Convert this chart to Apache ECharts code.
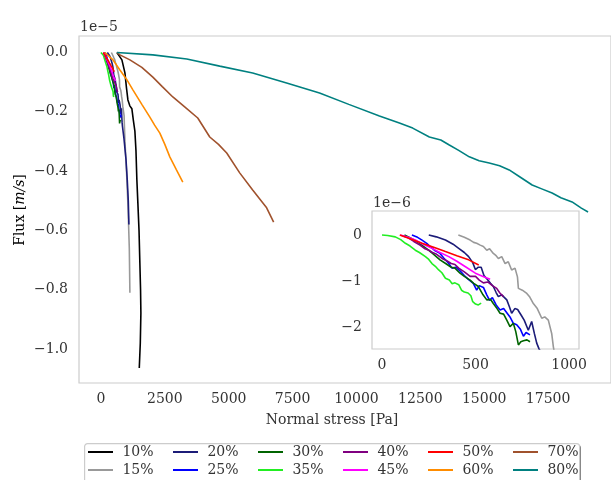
<!DOCTYPE html>
<html>
<head>
<meta charset="utf-8">
<script src="https://cdn.jsdelivr.net/npm/echarts@6/dist/echarts.min.js"></script>
<style>html,body{margin:0;padding:0;background:#fff}#c{width:611px;height:480px}</style>
</head>
<body>
<div id="c"></div>
<script>
// values: x = normal stress [Pa], y = flux in units of 1e-6 m/s
const names = ['10%','15%','20%','25%','30%','35%','40%','45%','50%','60%','70%','80%'];
const colors = ['#000000','#999999','#1c1c78','#0000ff','#006400','#22ee22','#800080','#ff00ff','#ff0000','#ff8c00','#a0522d','#008080'];
const legendRow1 = ['10%','20%','30%','40%','50%','70%'];
const legendRow2 = ['15%','25%','35%','45%','60%','80%'];
const insetNames = ['15%','20%','25%','30%','35%','40%','45%','50%'];
const mainXTicks = [0,2500,5000,7500,10000,12500,15000,17500];
const mainYTicks = [0,-2,-4,-6,-8,-10];
const insetXTicks = [0,500,1000];
const insetYTicks = [0,-1,-2];

const s10 = [[625,0],[820,-0.25],[938,-0.69],[1000,-1.2],[1055,-1.6],[1130,-1.8],[1211,-1.9],[1270,-2.3],[1328,-2.65],[1370,-3.3],[1406,-4.3],[1445,-5.08],[1490,-6.0],[1523,-7.1],[1550,-8.0],[1563,-8.79],[1540,-9.8],[1500,-10.64]];
const s15 = [[408,0],[440,-0.05],[471,-0.11],[490,-0.16],[506,-0.18],[525,-0.22],[542,-0.25],[560,-0.33],[575,-0.3],[595,-0.4],[610,-0.45],[622,-0.51],[640,-0.47],[658,-0.62],[675,-0.58],[693,-0.76],[711,-0.72],[724,-0.91],[729,-1.16],[750,-1.2],[774,-1.27],[790,-1.35],[809,-1.49],[830,-1.6],[854,-1.81],[870,-1.78],[889,-1.85],[907,-2.14],[916,-2.43],[940,-3.0],[1000,-4.0],[1060,-5.2],[1110,-6.6],[1133,-8.1]];
const s20 = [[250,0],[290,-0.04],[339,-0.11],[380,-0.2],[410,-0.29],[440,-0.38],[463,-0.47],[485,-0.6],[499,-0.75],[515,-0.7],[530,-0.7],[545,-0.88],[560,-0.95],[580,-1.05],[595,-1.12],[610,-1.25],[622,-1.34],[640,-1.3],[667,-1.41],[680,-1.55],[693,-1.7],[710,-1.6],[725,-1.62],[745,-1.75],[760,-1.85],[782,-2.07],[800,-1.88],[815,-2.15],[827,-2.35],[840,-2.48],[900,-2.9],[980,-3.6],[1030,-4.3],[1070,-5.0],[1094,-5.8]];
const s25 = [[160,0],[190,-0.05],[214,-0.11],[239,-0.18],[260,-0.26],[280,-0.33],[310,-0.4],[330,-0.5],[357,-0.62],[374,-0.72],[395,-0.7],[417,-0.78],[440,-0.88],[460,-0.96],[488,-1.05],[506,-1.2],[520,-1.1],[542,-1.14],[560,-1.3],[575,-1.42],[590,-1.36],[610,-1.52],[631,-1.63],[650,-1.6],[684,-1.78],[702,-1.92],[720,-1.95],[740,-2.05],[756,-2.2],[770,-2.12],[791,-2.17]];
const s30 = [[120,0],[160,-0.08],[200,-0.18],[240,-0.3],[270,-0.4],[310,-0.54],[340,-0.62],[370,-0.7],[390,-0.72],[417,-0.83],[440,-0.9],[471,-0.98],[490,-1.05],[515,-1.12],[540,-1.3],[560,-1.41],[580,-1.4],[595,-1.49],[615,-1.6],[631,-1.7],[650,-1.72],[667,-1.85],[684,-1.99],[702,-1.92],[715,-2.1],[729,-2.39],[742,-2.32],[756,-2.3],[775,-2.28],[791,-2.32]];
const s35 = [[0,0],[30,-0.01],[71,-0.04],[100,-0.1],[125,-0.18],[150,-0.24],[178,-0.33],[200,-0.38],[232,-0.47],[250,-0.53],[267,-0.62],[285,-0.68],[303,-0.76],[320,-0.82],[339,-0.94],[360,-0.98],[375,-1.06],[390,-1.04],[410,-1.08],[425,-1.2],[440,-1.24],[460,-1.26],[475,-1.32],[485,-1.45],[500,-1.5],[515,-1.52],[530,-1.48]];
const s40 = [[110,-0.02],[132,-0.04],[170,-0.14],[203,-0.22],[230,-0.3],[250,-0.33],[270,-0.38],[292,-0.42],[321,-0.51],[346,-0.56],[370,-0.62],[390,-0.64],[410,-0.72],[440,-0.8],[471,-0.9],[500,-0.9],[520,-0.98],[542,-1.04],[565,-1.02],[590,-1.1],[613,-1.16],[630,-1.26],[649,-1.34]];
const s45 = [[98,0],[140,-0.05],[178,-0.11],[220,-0.2],[267,-0.29],[310,-0.38],[357,-0.47],[400,-0.57],[446,-0.69],[499,-0.83],[540,-0.9],[578,-0.96]];
const s50 = [[95,0],[150,-0.08],[214,-0.18],[280,-0.27],[339,-0.36],[400,-0.45],[463,-0.54],[517,-0.65]];
const s60 = [[156,0],[469,-0.25],[742,-0.59],[1000,-0.9],[1250,-1.26],[1600,-1.75],[1914,-2.18],[2100,-2.45],[2305,-2.72],[2500,-3.1],[2695,-3.52],[2950,-3.95],[3203,-4.37]];
const s70 = [[625,0],[742,-0.08],[1133,-0.25],[1600,-0.5],[2031,-0.83],[2400,-1.15],[2813,-1.5],[3300,-1.85],[3789,-2.21],[4258,-2.85],[4600,-3.1],[4922,-3.39],[5430,-4.06],[5938,-4.64],[6484,-5.24],[6758,-5.72]];
const s80 = [[625,0],[2031,-0.08],[3359,-0.22],[4648,-0.46],[5938,-0.69],[7266,-1.03],[8555,-1.37],[9700,-1.75],[10898,-2.14],[11680,-2.38],[12200,-2.55],[12852,-2.85],[13300,-2.95],[13633,-3.12],[14000,-3.3],[14414,-3.52],[14800,-3.65],[15195,-3.73],[15600,-3.82],[15977,-3.96],[16400,-4.2],[16875,-4.47],[17250,-4.6],[17656,-4.74],[18000,-4.9],[18438,-5.04],[18800,-5.25],[19063,-5.38]];
const seriesData = [s10,s15,s20,s25,s30,s35,s40,s45,s50,s60,s70,s80];

const FONT = 'DejaVu Serif';
const FS = 14;
const TXT = '#333333';
const minus = v => String(v).replace('-', '\u2212');

const chart = echarts.init(document.getElementById('c'), null, {renderer: 'canvas'});

const series = [];
names.forEach((n, i) => {
  series.push({name: n, type: 'line', xAxisIndex: 0, yAxisIndex: 0, data: seriesData[i],
    showSymbol: false, symbol: 'none', lineStyle: {color: colors[i], width: 1.6}, itemStyle: {color: colors[i]}, z: 2 + i * 0.01});
});
insetNames.forEach(n => {
  const i = names.indexOf(n);
  series.push({name: n, type: 'line', xAxisIndex: 1, yAxisIndex: 1, data: seriesData[i],
    showSymbol: false, symbol: 'none', lineStyle: {color: colors[i], width: 1.6}, itemStyle: {color: colors[i]}, clip: true, z: 5 + i * 0.01});
});

const legends = [];
[legendRow1, legendRow2].forEach((row, r) => {
  row.forEach((n, c) => {
    legends.push({
      orient: 'horizontal', left: 88 + 85 * c, top: r === 0 ? 445 : 463, padding: 0,
      itemWidth: 25, itemHeight: 2, icon: 'rect', selectedMode: false, data: [n],
      formatter: name => '\u00a0' + name,
      textStyle: {fontFamily: FONT, fontSize: FS, color: TXT}
    });
  });
});

const option = {
  animation: false,
  backgroundColor: '#ffffff',
  grid: [
    {left: 79, top: 36, width: 533, height: 347, show: true, borderColor: '#cccccc', borderWidth: 1.2, backgroundColor: 'transparent'},
    {left: 372, top: 211, width: 207, height: 138, show: true, borderColor: '#cccccc', borderWidth: 1.2, backgroundColor: '#ffffff', z: 4}
  ],
  xAxis: [
    {type: 'value', gridIndex: 0, min: -859, max: 19961,
      axisLine: {show: false}, axisTick: {show: false}, splitLine: {show: false},
      axisLabel: {customValues: mainXTicks, fontFamily: FONT, fontSize: FS, color: TXT, margin: 9, formatter: v => String(v)}},
    {type: 'value', gridIndex: 1, min: -53.5, max: 1053,
      axisLine: {show: false}, axisTick: {show: false}, splitLine: {show: false},
      axisLabel: {customValues: insetXTicks, fontFamily: FONT, fontSize: FS, color: TXT, margin: 9, formatter: v => String(v)}}
  ],
  yAxis: [
    {type: 'value', gridIndex: 0, min: -11.147, max: 0.556,
      axisLine: {show: false}, axisTick: {show: false}, splitLine: {show: false},
      axisLabel: {customValues: mainYTicks, fontFamily: FONT, fontSize: FS, color: TXT, margin: 11,
        formatter: v => minus((v / 10).toFixed(1))}},
    {type: 'value', gridIndex: 1, min: -2.478, max: 0.522,
      axisLine: {show: false}, axisTick: {show: false}, splitLine: {show: false},
      axisLabel: {customValues: insetYTicks, fontFamily: FONT, fontSize: FS, color: TXT, margin: 10,
        formatter: v => minus(Math.round(v))}}
  ],
  legend: legends,
  graphic: [
    {type: 'rect', left: 86, top: 445, shape: {width: 495, height: 60, r: 3}, style: {fill: '#777777'}, z: -10},
    {type: 'rect', left: 84, top: 443, shape: {width: 495, height: 60, r: 3}, style: {fill: '#ffffff', stroke: '#cccccc', lineWidth: 1.2}, z: -9},
    {type: 'text', left: 80, top: 20, style: {text: '1e\u22125', font: FS + 'px "DejaVu Serif"', fill: TXT}},
    {type: 'text', left: 373, top: 196, z: 10, style: {text: '1e\u22126', font: FS + 'px "DejaVu Serif"', fill: TXT}},
    {type: 'text', x: 332, y: 420, style: {text: 'Normal stress [Pa]', font: FS + 'px "DejaVu Serif"', fill: TXT, align: 'center', verticalAlign: 'middle'}},
    {type: 'text', x: 20, y: 210, rotation: Math.PI / 2,
      style: {text: '{a|Flux [}{b|m/s}{a|]}', align: 'center', verticalAlign: 'middle',
        rich: {a: {fontFamily: FONT, fontSize: FS, color: TXT}, b: {fontFamily: FONT, fontSize: FS, fontStyle: 'italic', color: TXT}}}}
  ],
  series: series
};
chart.setOption(option);
</script>
</body>
</html>
